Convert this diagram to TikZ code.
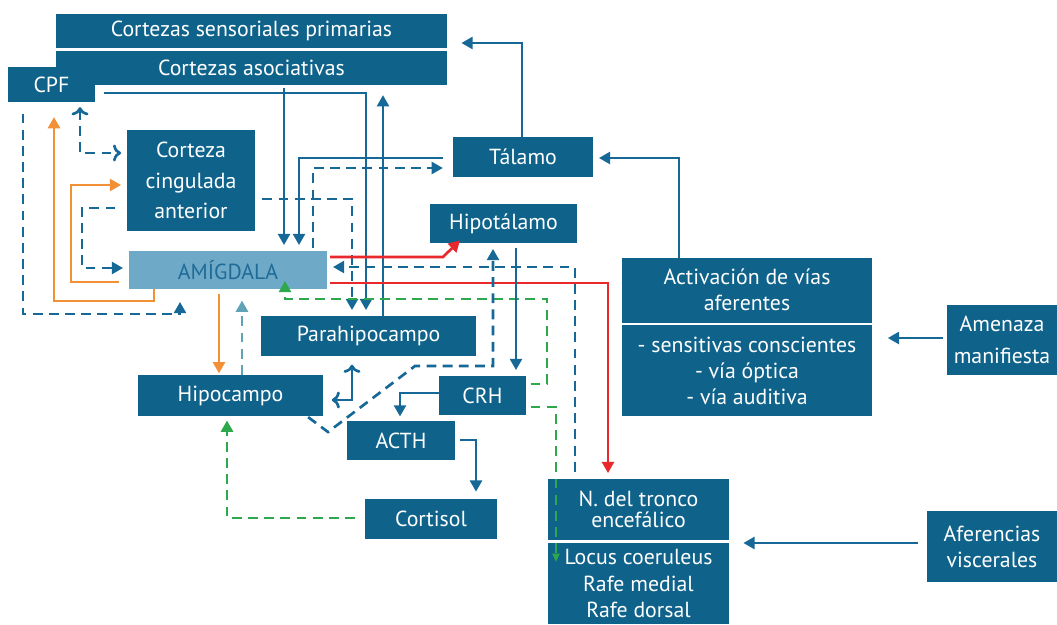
\documentclass[tikz,border=0pt]{standalone}
\usepackage{fontspec}
\setmainfont{PT Sans}
\usetikzlibrary{arrows.meta}
\definecolor{boxblue}{HTML}{0F638B}
\definecolor{lineblue}{HTML}{166897}
\definecolor{amyfill}{HTML}{6EA9C8}
\definecolor{amytext}{HTML}{1F6B97}
\definecolor{orangeline}{HTML}{F29035}
\definecolor{redline}{HTML}{E8282B}
\definecolor{greenline}{HTML}{2EA84C}
\definecolor{tealline}{HTML}{5FA4B6}
\begin{document}
\begin{tikzpicture}[
        x=0.025cm, y=-0.025cm,
        box/.style={rectangle, fill=boxblue, text=white, inner sep=2pt, align=center, font=\fontsize{15.5}{18.5}\selectfont},
        con/.style={line width=1.9pt, -{Triangle[length=8pt,width=8.5pt]}, shorten >=4pt},
        bcon/.style={con, draw=lineblue},
        dcon/.style={bcon, dash pattern=on 7pt off 4.5pt},
        ocon/.style={con, draw=orangeline},
        rcon/.style={con, draw=redline},
        gcon/.style={con, draw=greenline, dash pattern=on 7pt off 4.5pt},
        tcon/.style={con, draw=tealline, dash pattern=on 7pt off 4.5pt}
    ]
        \useasboundingbox (0,0) rectangle (1057,624);

        \node[box, minimum width=9.775cm, minimum height=0.85cm] (sens) at (251.5,31) {Cortezas sensoriales primarias};
        \node[box, minimum width=9.775cm, minimum height=0.85cm] (asoc) at (251.5,68) {Cortezas asociativas};
        \node[box, minimum width=2.175cm, minimum height=0.875cm] (cpf) at (51.5,84.5) {CPF};
        \node[box, minimum width=3.2cm, minimum height=2.525cm] (cing) at (191,180.5) {Corteza\\[3pt]cingulada\\[3pt]anterior};
        \node[box, fill=amyfill, text=amytext, minimum width=4.95cm, minimum height=0.95cm] (amyg) at (228,270) {AMÍGDALA};
        \node[box, minimum width=3.5cm, minimum height=1cm] (tal) at (523,157) {Tálamo};
        \node[box, minimum width=3.675cm, minimum height=0.975cm] (hipot) at (503.5,223.5) {Hipotálamo};
        \node[box, minimum width=6.25cm, minimum height=1.6125cm] (activtop) at (747,290.25) {Activación de vías\\aferentes};
        \node[box, minimum width=6.25cm, minimum height=2.2625cm] (activbot) at (747,370.75) {- sensitivas conscientes\\- vía óptica\\- vía auditiva};
        \node[box, inner sep=1pt, minimum width=2.75cm, minimum height=1.75cm] (amen) at (1002,340) {Amenaza\\[4pt]manifiesta};
        \node[box, minimum width=5.375cm, minimum height=1cm] (parah) at (368.5,336) {Parahipocampo};
        \node[box, minimum width=4.625cm, minimum height=1.025cm] (hipoc) at (230.5,395.5) {Hipocampo};
        \node[box, minimum width=2.175cm, minimum height=0.975cm] (crh) at (482.5,395.5) {CRH};
        \node[box, minimum width=2.7cm, minimum height=0.975cm] (acth) at (401,440.5) {ACTH};
        \node[box, minimum width=3.3cm, minimum height=1cm] (cort) at (431,519) {Cortisol};
        \node[box, minimum width=4.525cm, minimum height=1.525cm] (troncotop) at (638.5,509.5) {N. del tronco\\[-4pt]encefálico};
        \node[box, minimum width=4.525cm, minimum height=2.025cm] (troncobot) at (638.5,583.5) {Locus coeruleus\\Rafe medial\\Rafe dorsal};
        \node[box, minimum width=3.25cm, minimum height=1.775cm] (afer) at (992,546.5) {Aferencias\\viscerales};
        \coordinate (lc) at (556,562);

        \draw[dcon, <->, shorten <=3.5pt] (cpf.south -| 80,0) |- (cing.west |- 0,153);
        \draw[ocon, shorten <=7pt] (amyg.west |- 0,282) -| (71,185) -- (cing.west |- 0,185);
        \draw[ocon, shorten >=10.5pt] (amyg.south -| 154,0) |- (54,301) -- (cpf.south -| 54,0);
        \draw[dcon, shorten <=8pt, shorten >=9pt] (cpf.south -| 23,0) |- (180,314) -- (amyg.south -| 180,0);
        \draw[dcon, shorten <=8pt] (cing.west |- 0,208) -| (82,268) -- (amyg.west |- 0,268);
        \draw[ocon, shorten <=3pt, shorten >=1pt] (amyg.south -| 219,0) -- (hipoc.north -| 219,0);
        \draw[tcon, shorten >=8pt] (hipoc.north -| 242,0) -- (amyg.south -| 242,0);
        \draw[bcon, shorten <=2pt] (asoc.south -| 284,0) -- (amyg.north -| 284,0);
        \draw[bcon, shorten <=7pt] (tal.west |- 0,158) -| (amyg.north -| 299,0);
        \draw[dcon, shorten <=2pt, shorten >=7pt] (amyg.north -| 313,0) |- (tal.west |- 0,168);
        \draw[dcon, shorten <=5pt] (cing.east |- 0,199) -| (parah.north -| 352,0);
        \draw[bcon, shorten <=6pt] (cpf.east |- 0,93) -| (parah.north -| 366,0);
        \draw[bcon, shorten >=7pt] (parah.north -| 383,0) -- (asoc.south -| 383,0);
        \draw[bcon, shorten >=10pt] (tal.north -| 522,0) |- (sens.east |- 0,43);
        \draw[bcon] (activtop.north -| 679,0) |- (tal.east |- 0,158);
        \draw[bcon, shorten <=3pt, shorten >=11pt] (amen.west |- 0,338) -- (activbot.east |- 0,338);
        \draw[bcon, shorten <=6pt, shorten >=10pt] (afer.west |- 0,543) -- (troncobot.east |- 0,543);
        \draw[rcon, shorten <=2pt, shorten >=-3pt] (amyg.east |- 0,257) -- (443,257) -- (hipot.south -| 457,0);
        \draw[rcon, shorten <=2pt] (amyg.east |- 0,283) -| (troncotop.north -| 608,0);
        \draw[dcon, shorten <=5pt] (troncotop.north -| 575,0) |- (amyg.east |- 0,267);
        \draw[gcon, shorten <=3pt, shorten >=-6pt] (crh.east |- 0,384) -| (547,299) -| (amyg.south -| 285,0);
        \draw[gcon, shorten <=3pt, shorten >=0pt, -{Triangle[length=6pt,width=5pt]}] (crh.east |- 0,407) -| (lc);
        \draw[dcon, shorten <=1pt] (hipoc.south -| 307,0) -- (328,432) -- (415,366) -| (hipot.south -| 493,0);
        \draw[bcon, shorten <=3pt] (hipot.south -| 516,0) -- (crh.north -| 516,0);
        \draw[bcon, <->, shorten <=6pt, shorten >=6pt] (hipoc.east |- 0,400) -| (parah.south -| 352,0);
        \draw[bcon, shorten >=3pt] (crh.west |- 0,393) -| (acth.north -| 400,0);
        \draw[bcon, shorten <=3pt, shorten >=5pt] (acth.east |- 0,440) -| (cort.north -| 476,0);
        \draw[gcon, shorten <=7pt, shorten >=3pt] (cort.west |- 0,518) -| (hipoc.south -| 227,0);
    \end{tikzpicture}
\end{document}
